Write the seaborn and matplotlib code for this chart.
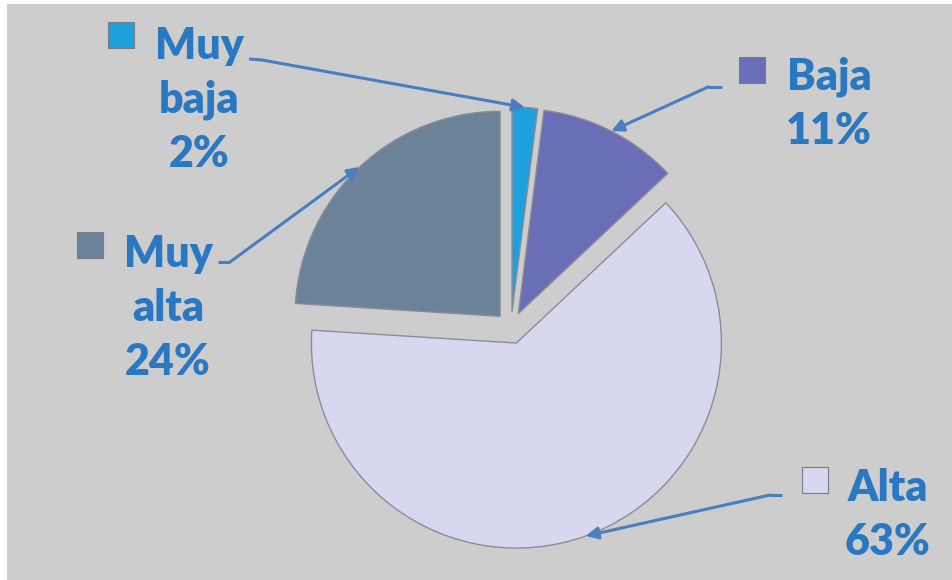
import matplotlib
matplotlib.use("Agg")
import matplotlib.pyplot as plt
from matplotlib.patches import Rectangle
import numpy as np
import seaborn as sns

# data
categories = ["Muy baja", "Baja", "Alta", "Muy alta"]
percent = [2, 11, 63, 24]
colors = sns.color_palette(["#1ea0dc", "#6a6eb6", "#d7d8f0", "#6c8299"])

# layout (pixel coords, y measured from the top)
W, H = 953, 580
label_xy = [(199, 100), (829, 104), (888, 515), (168, 308)]
marker_xy = [(121, 35), (752, 70), (815, 480), (90, 245)]
leader_start = [(249, 59), (722, 87), (782, 495), (218, 262)]
leader_elbow = [(262, 60), (708, 87), (770, 495), (230, 262)]

text_color = "#2b78c2"
line_color = "#4a7ebf"

sns.set_style("white")
plt.rcParams["font.family"] = ["Lato", "DejaVu Sans"]

fig = plt.figure(figsize=(W / 100, H / 100), dpi=100)
fig.patch.set_facecolor("white")
ax = fig.add_axes([0, 0, 1, 1])

def fy(y):
    return H - y

ax.add_patch(Rectangle((7, 0), W - 7, H - 4, facecolor="#cdcdcd", edgecolor="none", zorder=0))

wedges, _ = ax.pie(percent, colors=colors, startangle=90, counterclock=False,
                   explode=[16] * len(percent), radius=205, center=(511, fy(328)),
                   wedgeprops=dict(edgecolor="#8c8c98", linewidth=1.0, zorder=2))

ax.set_xlim(0, W)
ax.set_ylim(0, H)
ax.set_aspect("equal")
ax.axis("off")

for i, (name, p) in enumerate(zip(categories, percent)):
    w = wedges[i]
    th = np.deg2rad((w.theta1 + w.theta2) / 2)
    tip = (w.center[0] + w.r * np.cos(th), w.center[1] + w.r * np.sin(th))
    sx, sy = leader_start[i]
    ex, ey = leader_elbow[i]
    ax.plot([sx, ex], [fy(sy), fy(ey)], color=line_color, lw=2.2, zorder=4,
            solid_capstyle="butt")
    ax.annotate("", xy=tip, xytext=(ex, fy(ey)),
                arrowprops=dict(arrowstyle="-|>", color=line_color, lw=2.2,
                                mutation_scale=18, shrinkA=0, shrinkB=0),
                zorder=4)
    mx, my = marker_xy[i]
    ax.scatter([mx], [fy(my)], marker="s", s=330, color=colors[i],
               edgecolor="#7a7a86", linewidth=0.8, zorder=5)
    lx, ly = label_xy[i]
    ax.text(lx, fy(ly), name.replace(" ", "\n") + f"\n{p}%", ha="center", va="center",
            fontsize=31, fontweight="heavy", color=text_color, linespacing=1.42, zorder=5)

fig.savefig("out.png", dpi=100, facecolor=fig.get_facecolor())
